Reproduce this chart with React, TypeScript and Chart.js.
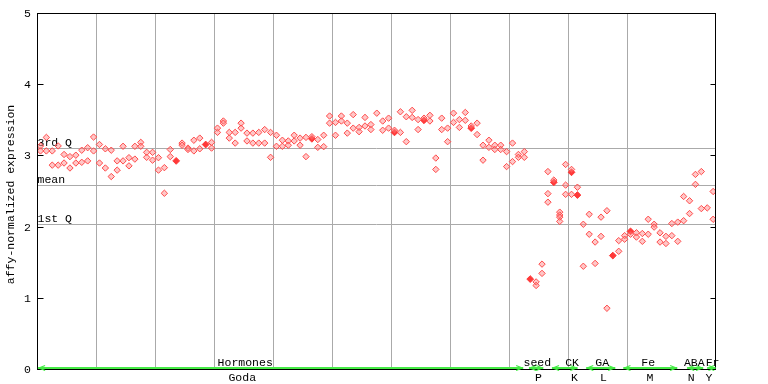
import React, { useEffect, useRef } from "react";
import { Chart, registerables } from "chart.js";

Chart.register(...registerables);

// x axis: sample columns (column c is plotted at c + 0.5)
const X_MAX = 114.9;
const X_GRID_STEP = 10;

// replicate values per sample column
const replicateValues: number[][] = [
  [3.14, 3.07], [3.26, 3.07], [3.07, 2.87], [3.14, 2.87], [3.02, 2.9],
  [2.99, 2.83], [3.01, 2.9], [3.08, 2.91], [3.115, 2.93], [3.265, 3.07],
  [3.16, 2.9], [3.1, 2.83], [3.08, 2.71], [2.93, 2.8], [3.135, 2.93],
  [2.975, 2.86], [3.135, 2.955], [3.19, 3.135], [3.05, 2.98], [3.05, 2.94],
  [2.975, 2.8], [2.835, 2.475], [3.09, 2.99], [], [3.18, 3.15],
  [3.11, 3.09], [3.22, 3.07], [3.25, 3.1], [], [3.19, 3.11],
  [3.39, 3.33], [3.49, 3.46], [3.33, 3.25], [3.33, 3.18], [3.46, 3.39],
  [3.32, 3.21], [3.32, 3.18], [3.33, 3.18], [3.37, 3.18], [3.33, 2.98],
  [3.29, 3.135], [3.22, 3.135], [3.21, 3.15], [3.29, 3.21], [3.25, 3.15],
  [3.26, 2.99], [3.27], [3.23, 3.12], [3.29, 3.13], [3.56, 3.46],
  [3.47, 3.29], [3.56, 3.49], [3.46, 3.32], [3.58, 3.39], [3.4, 3.34],
  [3.54, 3.42], [3.44, 3.37], [3.6], [3.49, 3.36], [3.53, 3.39],
  [3.36], [3.62, 3.33], [3.55, 3.2], [3.64, 3.54], [3.51, 3.37],
  [3.53], [3.57, 3.49], [2.97, 2.81], [3.53, 3.37], [3.39, 3.2],
  [3.6, 3.47], [3.51, 3.4], [3.61, 3.5], [3.42], [3.46, 3.3],
  [3.15, 2.94], [3.22, 3.12], [3.15, 3.09], [3.15, 3.09], [3.06, 2.85],
  [3.18, 2.92], [3.02, 2.98], [3.06, 2.98], [], [1.23, 1.18],
  [1.48, 1.35], [2.78, 2.47, 2.35], [2.66], [2.21, 2.17, 2.14, 2.08], [2.88, 2.59, 2.46],
  [2.81, 2.46], [2.56], [2.04, 1.45], [2.18, 1.9], [1.79, 1.49],
  [2.14, 1.87], [2.23, 0.86], [], [1.81, 1.66], [1.88, 1.83],
  [1.9], [1.92, 1.86], [1.91, 1.8], [2.11, 1.9], [2.04, 2.0],
  [1.92, 1.79], [1.87, 1.77], [2.05, 1.88], [2.07, 1.8], [2.43, 2.09],
  [2.37, 2.19], [2.74, 2.6], [2.78, 2.26], [2.27], [2.5, 2.11],
];

// filled markers: [column, value]
const filledColumns = [23, 28, 46, 60, 65, 73, 83, 87, 90, 91, 97, 100];
const filledValues = [2.93, 3.16, 3.24, 3.33, 3.5, 3.39, 1.27, 2.63, 2.77, 2.45, 1.6, 1.94];

const quartileValues = [3.104, 2.584, 2.037];
const quartileLabels = ["3rd Q", "mean", "1st Q"];

const yTickValues = [0, 1, 2, 3, 4, 5];
const yTitle = "affy-normalized expression";

const groupTop = ["Hormones", "seed", "CK", "GA", "Fe", "ABA", "Fr"];
const groupBottom = ["Goda", "P", "K", "L", "M", "N", "Y"];
const groupStart = [0.1, 83.3, 87.2, 93.0, 99.3, 110.1, 113.5];
const groupEnd = [82.3, 85.7, 91.5, 97.9, 108.4, 112.8, 114.9];
const groupTopPos = [35.2, 84.7, 90.6, 95.7, 103.5, 111.3, 114.4];
const groupBottomPos = [34.7, 84.9, 91.0, 95.9, 103.8, 110.8, 113.8];

const FONT = '11.5px "Liberation Mono", "DejaVu Sans Mono", monospace';
const GREEN = "rgb(70,235,70)";

const overlay = {
  id: "overlay",
  beforeDatasetsDraw(chart: any) {
    const { ctx, chartArea: a, scales } = chart;
    const y = scales.y;
    ctx.save();
    ctx.strokeStyle = "#aaaaaa";
    ctx.lineWidth = 1;
    ctx.font = FONT;
    ctx.fillStyle = "#000";
    ctx.textAlign = "left";
    ctx.textBaseline = "alphabetic";
    quartileValues.forEach((v, i) => {
      const py = Math.floor(y.getPixelForValue(v)) + 0.5;
      ctx.beginPath();
      ctx.moveTo(a.left, py);
      ctx.lineTo(a.right, py);
      ctx.stroke();
      ctx.fillText(quartileLabels[i], a.left, py - 2.5);
    });
    ctx.restore();
  },
  afterDraw(chart: any) {
    const { ctx, chartArea: a, scales } = chart;
    const x = scales.x;
    const y = scales.y;
    ctx.save();
    // frame
    ctx.strokeStyle = "#000";
    ctx.lineWidth = 1;
    ctx.strokeRect(a.left, a.top, a.right - a.left, a.bottom - a.top);
    // ticks
    ctx.font = FONT;
    ctx.fillStyle = "#000";
    ctx.textAlign = "right";
    ctx.textBaseline = "middle";
    yTickValues.forEach((v) => {
      const py = Math.floor(y.getPixelForValue(v)) + 0.5;
      ctx.beginPath();
      ctx.moveTo(a.left, py);
      ctx.lineTo(a.left + 6, py);
      ctx.moveTo(a.right - 5, py);
      ctx.lineTo(a.right, py);
      ctx.stroke();
      ctx.fillText(String(v), 31, py);
    });
    // y title
    ctx.save();
    ctx.translate(11, (a.top + a.bottom) / 2 + 3);
    ctx.rotate(-Math.PI / 2);
    ctx.textAlign = "center";
    ctx.textBaseline = "middle";
    ctx.fillText(yTitle, 0, 0);
    ctx.restore();
    // group arrows
    const ay = a.bottom - 1.5;
    ctx.strokeStyle = GREEN;
    groupStart.forEach((s, i) => {
      const x1 = x.getPixelForValue(s);
      const x2 = x.getPixelForValue(groupEnd[i]);
      ctx.lineWidth = 2;
      ctx.beginPath();
      ctx.moveTo(x1, ay);
      ctx.lineTo(x2, ay);
      ctx.stroke();
      ctx.lineWidth = 1.3;
      ctx.beginPath();
      ctx.moveTo(x1 + 7, ay - 2.5);
      ctx.lineTo(x1 + 1, ay);
      ctx.lineTo(x1 + 7, ay + 2.5);
      ctx.moveTo(x2 - 7, ay - 2.5);
      ctx.lineTo(x2 - 1, ay);
      ctx.lineTo(x2 - 7, ay + 2.5);
      ctx.stroke();
    });
    ctx.textAlign = "center";
    ctx.textBaseline = "alphabetic";
    ctx.fillStyle = "#000";
    groupTop.forEach((t, i) => {
      ctx.fillText(t, x.getPixelForValue(groupTopPos[i]), a.bottom - 3.5);
    });
    groupBottom.forEach((t, i) => {
      ctx.fillText(t, x.getPixelForValue(groupBottomPos[i]), a.bottom + 11.5);
    });
    ctx.restore();
  },
};

export default function App() {
  const ref = useRef<HTMLCanvasElement>(null);
  useEffect(() => {
    const hollow: { x: number; y: number }[] = [];
    replicateValues.forEach((vals, c) => vals.forEach((v) => hollow.push({ x: c + 0.5, y: v })));
    const filled = filledColumns.map((c, i) => ({ x: c + 0.5, y: filledValues[i] }));
    const chart = new Chart(ref.current!, {
      type: "scatter",
      data: {
        datasets: [
          {
            data: hollow,
            pointStyle: "rectRot",
            pointRadius: 3.2,
            borderWidth: 1,
            borderColor: "#ff4a4a",
            backgroundColor: "rgba(255,130,130,0.45)",
          },
          {
            data: filled,
            pointStyle: "rectRot",
            pointRadius: 3.4,
            borderWidth: 1,
            borderColor: "#ff3838",
            backgroundColor: "#ff3838",
          },
        ],
      },
      options: {
        responsive: false,
        animation: false,
        events: [],
        layout: { padding: { left: 37.5, right: 52.5, top: 13.5, bottom: 14.5 } },
        plugins: { legend: { display: false }, tooltip: { enabled: false } },
        scales: {
          x: {
            type: "linear",
            min: 0,
            max: X_MAX,
            ticks: { display: false, stepSize: X_GRID_STEP },
            grid: { color: "#aaaaaa", lineWidth: 1, drawTicks: false },
            border: { display: false },
          },
          y: {
            type: "linear",
            min: 0,
            max: 5,
            ticks: { display: false },
            grid: { display: false, drawTicks: false },
            border: { display: false },
          },
        },
      },
      plugins: [overlay],
    });
    return () => chart.destroy();
  }, []);
  return (
    <div style={{ position: "fixed", left: 0, top: 0, width: 768, height: 384, background: "#fff" }}>
      <canvas ref={ref} width={768} height={384} style={{ display: "block", width: 768, height: 384 }} />
    </div>
  );
}
